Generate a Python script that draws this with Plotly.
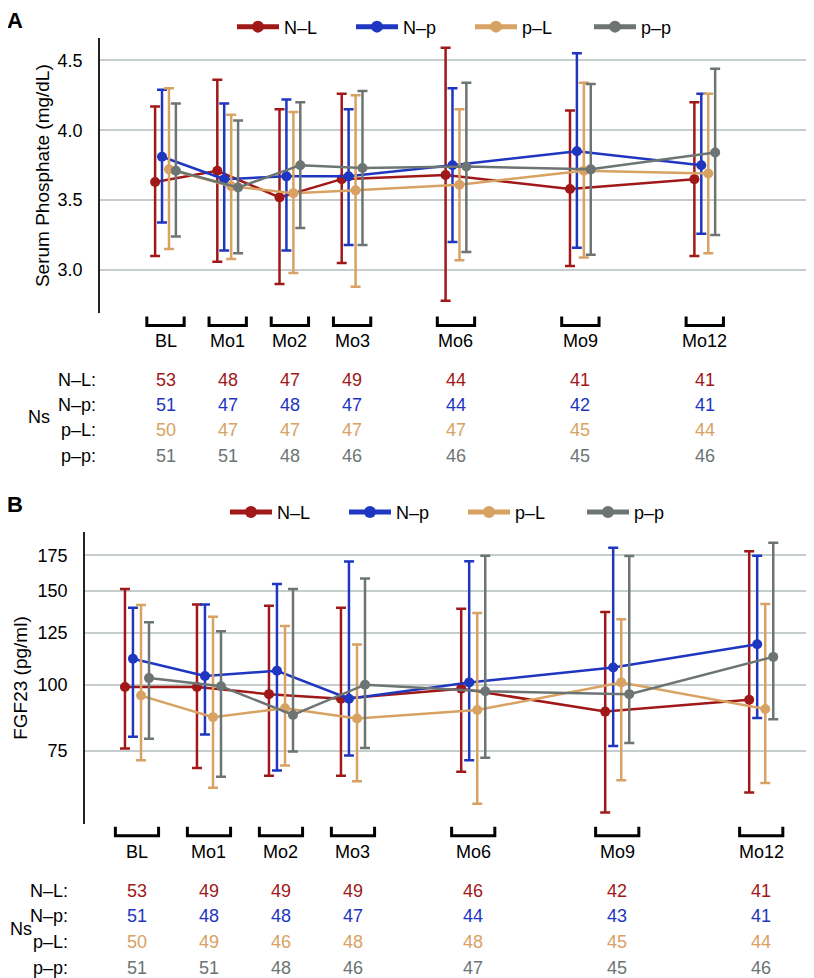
import plotly.graph_objects as go

# the page body keeps its default 8px margin, so the figure is drawn 8px in
OFF = 8
W, H = 814 - OFF, 978 - OFF

VISITS = ["BL", "Mo1", "Mo2", "Mo3", "Mo6", "Mo9", "Mo12"]
# visit positions along x (spacing is not linear in months in the figure)
VISIT_POS = [0, 1, 2, 3, 4.67, 6.67, 8.67]

GROUPS = ["N–L", "N–p", "p–L", "p–p"]
COLORS = ["#a01818", "#1f36c1", "#d8a263", "#6c7573"]
DODGE = [-0.167, -0.056, 0.056, 0.167]

# Panel A: serum phosphate (mg/dL)
PHOS_MEAN = {
    "N–L": [3.63, 3.71, 3.52, 3.65, 3.68, 3.58, 3.65],
    "N–p": [3.81, 3.65, 3.67, 3.67, 3.75, 3.85, 3.75],
    "p–L": [3.72, 3.60, 3.55, 3.57, 3.61, 3.71, 3.69],
    "p–p": [3.71, 3.59, 3.75, 3.73, 3.74, 3.72, 3.84],
}
PHOS_HI = {
    "N–L": [4.17, 4.36, 4.15, 4.26, 4.59, 4.14, 4.20],
    "N–p": [4.29, 4.19, 4.22, 4.15, 4.30, 4.55, 4.26],
    "p–L": [4.30, 4.11, 4.13, 4.25, 4.15, 4.34, 4.26],
    "p–p": [4.19, 4.07, 4.20, 4.28, 4.34, 4.33, 4.44],
}
PHOS_LO = {
    "N–L": [3.10, 3.06, 2.90, 3.05, 2.78, 3.03, 3.10],
    "N–p": [3.34, 3.14, 3.14, 3.18, 3.20, 3.16, 3.26],
    "p–L": [3.15, 3.08, 2.98, 2.88, 3.07, 3.09, 3.12],
    "p–p": [3.24, 3.12, 3.30, 3.18, 3.13, 3.11, 3.25],
}
PHOS_N = {
    "N–L": [53, 48, 47, 49, 44, 41, 41],
    "N–p": [51, 47, 48, 47, 44, 42, 41],
    "p–L": [50, 47, 47, 47, 47, 45, 44],
    "p–p": [51, 51, 48, 46, 46, 45, 46],
}

# Panel B: FGF23 (pg/ml), log axis
FGF_MEAN = {
    "N–L": [99.0, 99.0, 96.0, 94.1, 98.3, 89.0, 93.7],
    "N–p": [111.9, 103.8, 106.2, 94.1, 101.0, 107.7, 119.1],
    "p–L": [95.4, 86.9, 90.3, 86.4, 89.6, 101.0, 90.0],
    "p–p": [102.9, 99.3, 87.7, 100.0, 97.2, 96.0, 112.8],
}
FGF_HI = {
    "N–L": [151.3, 141.6, 140.8, 139.5, 138.9, 137.0, 178.2],
    "N–p": [139.5, 141.6, 154.6, 170.4, 170.7, 181.0, 174.8],
    "p–L": [141.2, 134.2, 129.0, 119.0, 136.4, 132.7, 141.8],
    "p–p": [131.0, 126.0, 151.3, 158.4, 174.8, 174.6, 184.9],
}
FGF_LO = {
    "N–L": [75.9, 69.7, 67.4, 67.4, 68.6, 57.5, 62.7],
    "N–p": [79.8, 80.6, 69.0, 73.6, 72.1, 76.7, 86.6],
    "p–L": [72.1, 64.0, 70.5, 65.8, 59.7, 66.1, 65.3],
    "p–p": [79.1, 67.1, 74.9, 76.0, 72.9, 77.7, 86.1],
}
FGF_N = {
    "N–L": [53, 49, 49, 49, 46, 42, 41],
    "N–p": [51, 48, 48, 47, 44, 43, 41],
    "p–L": [50, 49, 46, 48, 48, 45, 44],
    "p–p": [51, 51, 48, 46, 47, 45, 46],
}

FONT = "Liberation Sans, Arial, Helvetica, sans-serif"
FS = 18


def px(x):
    # page pixel column -> paper x
    return (x - OFF) / W


def py(y):
    # page pixel row -> paper y
    return 1 - (y - OFF) / H


fig = go.Figure()


def add_panel(mean, hi, lo, xref, yref, legend):
    for g, col, dx in zip(GROUPS, COLORS, DODGE):
        m = mean[g]
        fig.add_trace(go.Scatter(
            x=[p + dx for p in VISIT_POS], y=m,
            mode="lines+markers", name=g,
            line=dict(color=col, width=2.5),
            marker=dict(color=col, size=10),
            error_y=dict(type="data", symmetric=False,
                         array=[h - v for h, v in zip(hi[g], m)],
                         arrayminus=[v - l for l, v in zip(lo[g], m)],
                         color=col, thickness=2.5, width=5),
            xaxis=xref, yaxis=yref, legend=legend,
        ))


add_panel(PHOS_MEAN, PHOS_HI, PHOS_LO, "x", "y", "legend")
add_panel(FGF_MEAN, FGF_HI, FGF_LO, "x2", "y2", "legend2")


def label(x, y, text, xref="paper", xanchor="center", color="black", size=FS):
    fig.add_annotation(x=x, y=y, xref=xref, yref="paper", text=text,
                       showarrow=False, xanchor=xanchor, yanchor="middle",
                       font=dict(size=size, color=color))


def add_table(counts, xref, br_top, br_bot, lab_y, rows_y, ns_x, rowlab_x):
    for p, v in zip(VISIT_POS, VISITS):
        fig.add_shape(type="path",
                      path=f"M {p-0.3},{py(br_top)} L {p-0.3},{py(br_bot)} "
                           f"L {p+0.3},{py(br_bot)} L {p+0.3},{py(br_top)}",
                      xref=xref, yref="paper", line=dict(color="black", width=3))
        label(p, py(lab_y), v, xref=xref)
    for g, col, ry in zip(GROUPS, COLORS, rows_y):
        label(px(rowlab_x), py(ry), g + ":", xanchor="right")
        for p, n in zip(VISIT_POS, counts[g]):
            label(p, py(ry), str(n), xref=xref, color=col)
    label(px(ns_x), py((rows_y[1] + rows_y[2]) / 2), "Ns")


add_table(PHOS_N, "x", 313, 322, 338, [377, 402, 427, 453], 39, 98)
add_table(FGF_N, "x2", 826, 835, 851, [891, 916, 942, 968], 21, 70)

label(px(15), py(16), "<b>A</b>", size=22)
label(px(15), py(502), "<b>B</b>", size=22)

xcommon = dict(showgrid=False, zeroline=False, showticklabels=False, ticks="",
               showline=False)
ycommon = dict(showgrid=True, gridcolor="#c6cdcd", gridwidth=1.5, zeroline=False,
               showline=True, linecolor="#222", linewidth=1.5, ticks="",
               ticklabelstandoff=12, tickfont=dict(size=FS, color="black"))
legcommon = dict(orientation="h", xanchor="left", yanchor="middle",
                 font=dict(size=FS, color="black"), entrywidth=62, itemwidth=42,
                 itemsizing="constant", bgcolor="rgba(0,0,0,0)")

fig.update_layout(
    width=W, height=H,
    margin=dict(l=0, r=0, t=0, b=0),
    paper_bgcolor="white", plot_bgcolor="white",
    font=dict(family=FONT, size=FS, color="black"),
    xaxis=dict(domain=[px(100), 1], range=[-1.053, 10.426], anchor="y", **xcommon),
    yaxis=dict(domain=[py(310), py(33)], range=[2.69, 4.66], anchor="x",
               tickvals=[3.0, 3.5, 4.0, 4.5], ticktext=["3.0", "3.5", "4.0", "4.5"],
               title=dict(text="Serum Phosphate (mg/dL)", standoff=3,
                          font=dict(size=19)), **ycommon),
    xaxis2=dict(domain=[px(85), 1], range=[-0.722, 9.403], anchor="y2", **xcommon),
    yaxis2=dict(domain=[py(823), py(530)], type="log", range=[1.7384, 2.2866],
                anchor="x2", tickvals=[75, 100, 125, 150, 175],
                ticktext=["75", "100", "125", "150", "175"],
                title=dict(text="FGF23 (pg/ml)", standoff=5, font=dict(size=19)),
                **ycommon),
    legend=dict(x=px(232), y=py(22), **legcommon),
    legend2=dict(x=px(225), y=py(510), **legcommon),
)

fig.write_html("out.html")
